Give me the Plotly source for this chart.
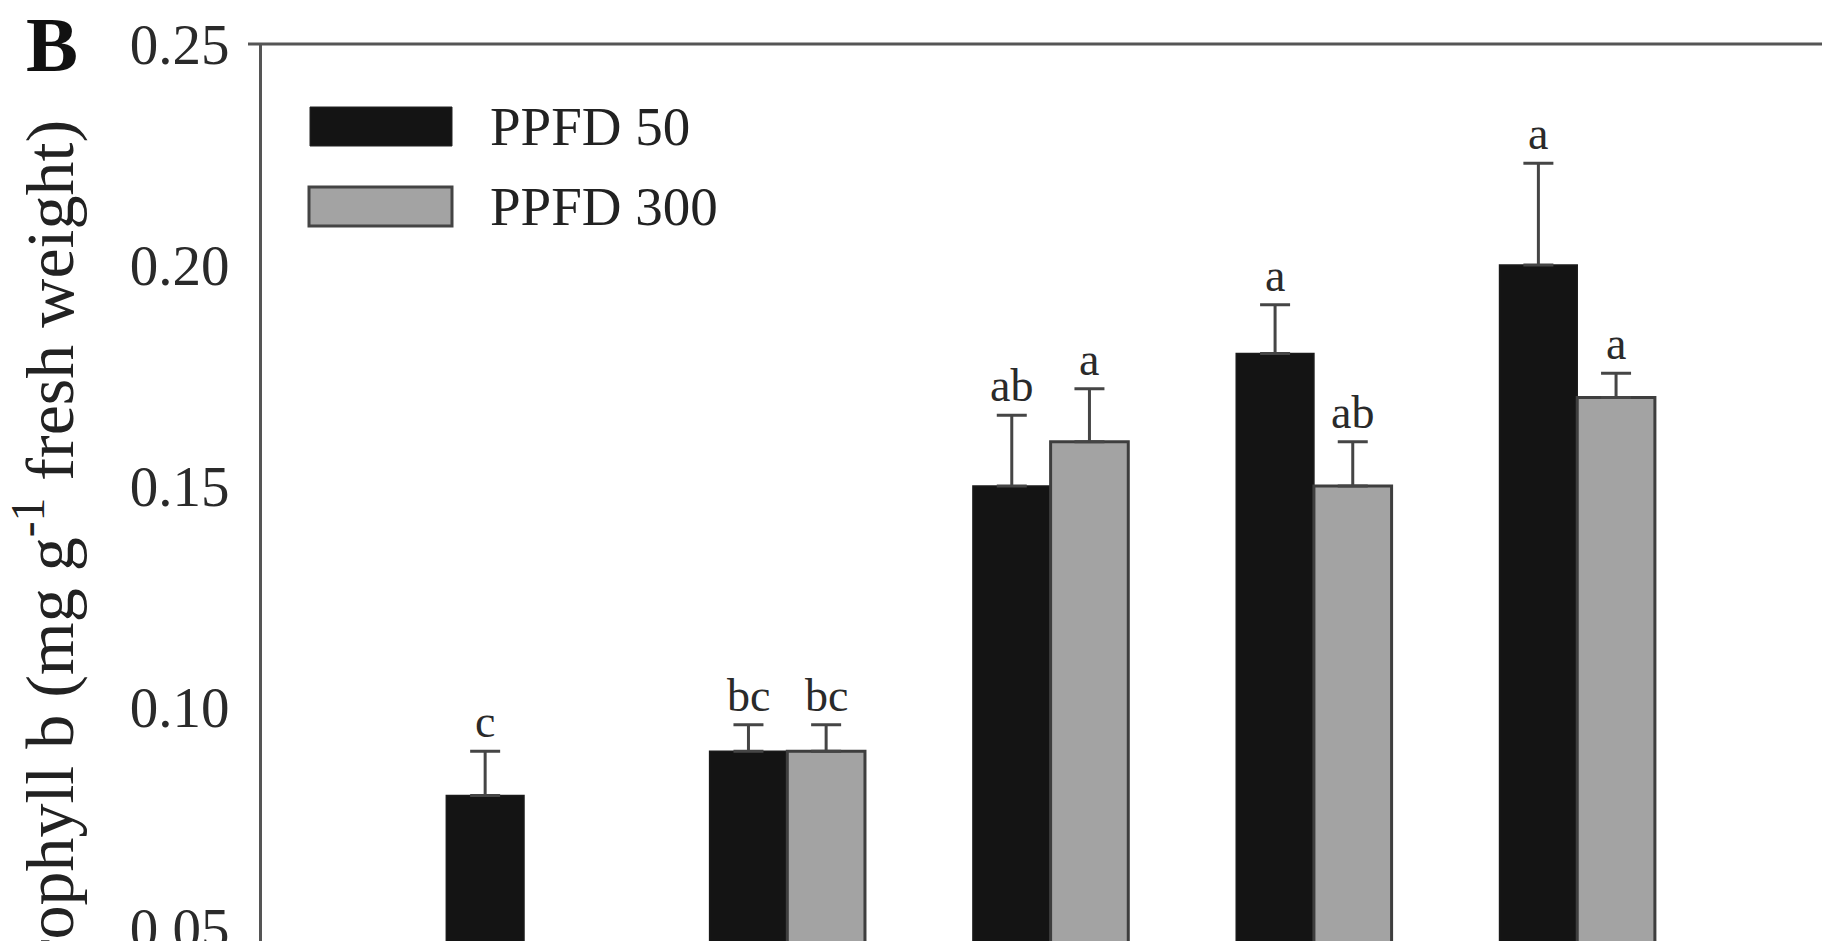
import plotly.graph_objects as go

# ---- data ----
categories = [0, 1, 2, 3, 4]
series_names = ["PPFD 50", "PPFD 300"]
ppfd50 = [0.080, 0.090, 0.150, 0.180, 0.200]
ppfd50_err = [0.010, 0.006, 0.016, 0.011, 0.023]
ppfd300 = [None, 0.090, 0.160, 0.150, 0.170]
ppfd300_err = [None, 0.006, 0.012, 0.010, 0.0055]
letters50 = ["c", "bc", "ab", "a", "a"]
letters300 = ["", "bc", "a", "ab", "a"]
ytick_vals = [0.05, 0.10, 0.15, 0.20, 0.25]
ytick_text = ["0.05", "0.10", "0.15", "0.20", "0.25"]

FONT = "Liberation Serif"
OFF = 8                      # page body margin of the html page
W, H = 1830 - OFF, 941 - OFF
ML, MT = 262 - OFF, 44 - OFF
BARGAP = 0.41

fig = go.Figure()
fig.add_trace(go.Bar(
    x=categories, y=ppfd50, name=series_names[0], offsetgroup="a",
    marker=dict(color="#141414", line=dict(color="#1a1a1a", width=1.5)),
    error_y=dict(type="data", array=ppfd50_err, arrayminus=[0] * 5, symmetric=False,
                 color="#454545", thickness=3, width=15),
    showlegend=False,
))
fig.add_trace(go.Bar(
    x=categories, y=ppfd300, name=series_names[1], offsetgroup="b",
    marker=dict(color="#a3a3a3", line=dict(color="#3e3e3e", width=3)),
    error_y=dict(type="data", array=ppfd300_err, arrayminus=[0] * 5, symmetric=False,
                 color="#454545", thickness=3, width=15),
    showlegend=False,
))

bw = (1 - BARGAP) / 2
annotations = []
for k, (vals, errs, labs) in enumerate([(ppfd50, ppfd50_err, letters50),
                                        (ppfd300, ppfd300_err, letters300)]):
    for c, v, e, t in zip(categories, vals, errs, labs):
        if v is None or not t:
            continue
        annotations.append(dict(
            x=c + (k - 0.5) * bw, y=v + e, xref="x", yref="y",
            text=t, showarrow=False, yanchor="bottom", xanchor="center", yshift=2,
            font=dict(family=FONT, size=46, color="#2a2a2a"),
        ))

pw = W - ML
ph = H - MT
def px(xs):   # screen pixel -> paper x
    return (xs - OFF - ML) / pw
def py(ys):   # screen pixel -> paper y
    return (H - (ys - OFF)) / ph

# panel letter
annotations.append(dict(x=px(52), y=py(45), xref="paper", yref="paper", text="<b>B</b>",
                        showarrow=False, xanchor="center", yanchor="middle",
                        font=dict(family=FONT, size=78, color="#111111")))
# y-axis title (cropped at the bottom as in the reference)
annotations.append(dict(x=px(45), y=py(118), xref="paper", yref="paper",
                        text="Chlorophyll b (mg g<sup>-1</sup> fresh weight)",
                        showarrow=False, textangle=-90, xanchor="center", yanchor="top",
                        font=dict(family=FONT, size=68, color="#222222")))
# legend text
for name, yc in zip(series_names, [126, 206]):
    annotations.append(dict(x=px(488), y=py(yc), xref="paper", yref="paper", text=name,
                            showarrow=False, xanchor="left", yanchor="middle",
                            font=dict(family=FONT, size=55, color="#222222")))

shapes = [
    # top frame line
    dict(type="line", xref="paper", yref="paper", x0=px(248), x1=1.0, y0=1.0, y1=1.0,
         line=dict(color="#555555", width=3)),
    # legend swatches
    dict(type="rect", xref="paper", yref="paper", x0=px(310), x1=px(452), y0=py(146), y1=py(107),
         fillcolor="#141414", line=dict(color="#222222", width=1)),
    dict(type="rect", xref="paper", yref="paper", x0=px(309), x1=px(452), y0=py(226), y1=py(187),
         fillcolor="#a3a3a3", line=dict(color="#444444", width=3)),
]

y_bottom = 0.25 - (H - MT) * 0.05 / 221.0

fig.update_layout(
    width=W, height=H,
    margin=dict(l=ML, r=0, t=MT, b=0, pad=0, autoexpand=False),
    paper_bgcolor="white", plot_bgcolor="white",
    barmode="group", bargap=BARGAP, bargroupgap=0,
    annotations=annotations, shapes=shapes,
    showlegend=False,
    font=dict(family=FONT),
)
fig.update_xaxes(range=[-0.995, 4.96], showticklabels=False, showline=False,
                 showgrid=False, zeroline=False, ticks="", automargin=False)
fig.update_yaxes(range=[y_bottom, 0.25], tickvals=ytick_vals, ticktext=ytick_text,
                 showline=True, linecolor="#555555", linewidth=3, showgrid=False,
                 zeroline=False, ticks="", ticklabelstandoff=18, automargin=False,
                 ticklabeloverflow="allow",
                 tickfont=dict(family=FONT, size=57, color="#2a2a2a"))

fig.write_html("out.html")
